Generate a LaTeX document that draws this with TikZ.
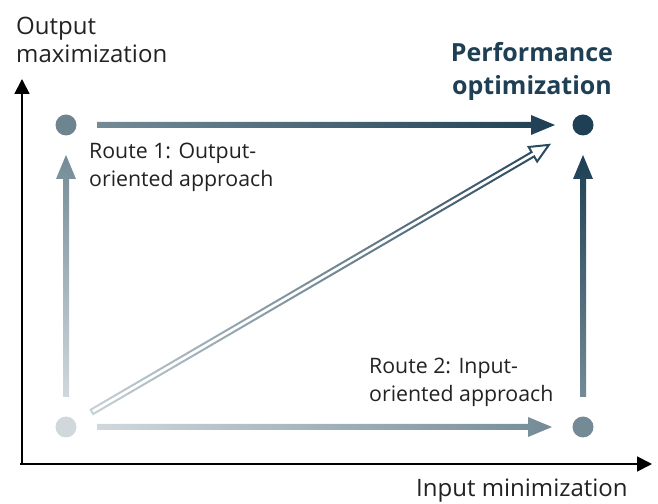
\documentclass[tikz,border=0pt]{standalone}
\usepackage{fontspec}
\setmainfont{Open Sans}
\usepackage{tikz}
\usetikzlibrary{calc}
\usetikzlibrary{arrows.meta}
\usetikzlibrary{positioning}

\definecolor{petrol}{HTML}{1E3F54}
\definecolor{midgrey}{HTML}{748B97}
\definecolor{lightgrey}{HTML}{D0D8DC}
\definecolor{textgrey}{HTML}{222222}

\tikzset{dot/.style={circle,inner sep=0pt,minimum size=21pt}}
\tikzset{axis/.style={line width=1.8pt,-{Triangle[length=15pt,width=15pt]}}}
\tikzset{lbl/.style={inner sep=0pt,text=textgrey,align=left}}

% solid arrow with a colour gradient: from, to, gap at start, gap at end, start colour, end colour
\newcommand{\gradarrow}[6]{%
  \path let \p1=($(#2)-(#1)$) in \pgfextra{%
    \pgfmathparse{atan2(\y1,\x1)}\xdef\arang{\pgfmathresult}%
    \pgfmathparse{veclen(\x1,\y1)}\xdef\arlen{\pgfmathresult}};
  \begin{scope}[transform canvas={shift={(#1)},rotate=\arang}]
    \shade[left color=#5,right color=#6]
      (#3,-3) -- ({\arlen-#4-24},-3) -- ({\arlen-#4-24},-10) -- ({\arlen-#4},0)
      -- ({\arlen-#4-24},10) -- ({\arlen-#4-24},3) -- (#3,3) -- cycle;
  \end{scope}}

% hollow arrow with a colour gradient, same arguments
\newcommand{\hollowarrow}[6]{%
  \path let \p1=($(#2)-(#1)$) in \pgfextra{%
    \pgfmathparse{atan2(\y1,\x1)}\xdef\arang{\pgfmathresult}%
    \pgfmathparse{veclen(\x1,\y1)}\xdef\arlen{\pgfmathresult}};
  \begin{scope}[transform canvas={shift={(#1)},rotate=\arang}]
    \shade[even odd rule,left color=#5,right color=#6]
      (#3,-3.5) -- ({\arlen-#4-22},-3.5) -- ({\arlen-#4-22},-10) -- ({\arlen-#4},0)
      -- ({\arlen-#4-22},10) -- ({\arlen-#4-22},3.5) -- (#3,3.5) -- cycle
      ({#3+2},-1.5) -- ({\arlen-#4-20},-1.5) -- ({\arlen-#4-20},-6.9) -- ({\arlen-#4-4.8},0)
      -- ({\arlen-#4-20},6.9) -- ({\arlen-#4-20},1.5) -- ({#3+2},1.5) -- cycle;
  \end{scope}}

\begin{document}
\begin{tikzpicture}[x=1pt,y=1pt]
\useasboundingbox (0,0) rectangle (658,503);

% axes
\coordinate (origin) at (22,39);
\coordinate (ytip) at (22,424);
\coordinate (xtip) at (652,39);
\draw[axis] (origin) -- (ytip);
\draw[axis] ([xshift=-2pt]origin) -- (xtip);

% states
\node[dot,fill=midgrey!95!black] (tl) at (66,378) {};
\node[dot,fill=petrol] (tr) at (583,378) {};
\node[dot,fill=lightgrey] (bl) at (66,76) {};
\node[dot,fill=midgrey] (br) at (583,76) {};

% routes
\gradarrow{tl}{tr}{31}{28}{midgrey}{petrol}
\gradarrow{bl}{tl}{30}{30}{lightgrey}{midgrey}
\gradarrow{bl}{br}{31}{31}{lightgrey}{midgrey}
\gradarrow{br}{tr}{30}{30}{midgrey}{petrol}
\hollowarrow{bl}{tr}{29}{37}{lightgrey!90!midgrey}{petrol!90!midgrey}

% labels (base = last line)
\node[lbl,anchor=base west,font=\fontsize{24}{28}\selectfont] (ylab) at (16,440) {Output\\maximization};
\node[lbl,anchor=base west,font=\fontsize{24}{28}\selectfont] (xlab) at (416,7) {Input minimization};
\node[inner sep=0pt,anchor=base,align=center,text=petrol,font=\fontsize{25}{33}\selectfont\bfseries] (perf) at (532,408) {Performance\\optimization};
\node[lbl,anchor=base west,font=\fontsize{21.3}{28}\selectfont] (route1) at (89,316) {Route 1: Output-\\oriented approach};
\node[lbl,anchor=base west,font=\fontsize{21.3}{28}\selectfont] (route2) at (369,101) {Route 2: Input-\\oriented approach};

\end{tikzpicture}
\end{document}
